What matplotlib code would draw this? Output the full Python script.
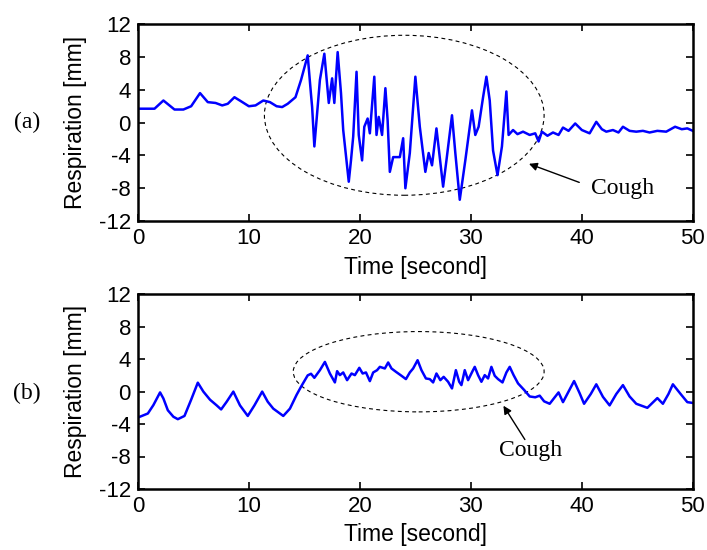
import numpy as np
import matplotlib.pyplot as plt
from matplotlib.patches import Ellipse

plt.rcParams['axes.unicode_minus'] = False

# (a) respiration with strong cough
t_a = [0, 1.5, 2.3, 3.3, 4.1, 4.8, 5.6, 6.3, 7.0, 7.6, 8.1, 8.7, 9.3, 10.0, 10.6,
       11.3, 11.9, 12.5, 13.0, 13.5, 14.2,
       14.7, 15.3, 15.6, 15.7, 15.9, 16.4, 16.8, 17.2, 17.5, 17.7, 18.0, 18.3, 18.5,
       19.0, 19.2, 19.4, 19.7, 19.9, 20.2, 20.4, 20.7, 20.9, 21.3, 21.5, 21.7, 22.0,
       22.3, 22.5, 22.7, 23.0, 23.6, 23.9, 24.1, 24.5, 25.0, 25.4, 25.9, 26.2, 26.5,
       26.9, 27.5, 27.8, 28.3, 28.6, 29.0, 29.5, 30.1, 30.4, 30.7, 31.1, 31.4, 31.7,
       32.0, 32.4, 32.8, 33.2, 33.4, 33.8, 34.2, 34.7, 35.3, 35.8, 36.1, 36.4, 36.9,
       37.4, 37.9, 38.3, 38.8, 39.4, 40.0, 40.7, 41.3, 41.8, 42.2, 42.8, 43.3, 43.7,
       44.3, 44.9, 45.5, 46.1, 46.8, 47.6, 48.0, 48.4, 49.0, 49.5, 50.0]
v_a = [1.7, 1.7, 2.7, 1.6, 1.6, 2.0, 3.6, 2.5, 2.4, 2.1, 2.3, 3.1, 2.6, 2.0, 2.1,
       2.7, 2.5, 2.0, 1.9, 2.3, 3.1,
       5.2, 8.2, 3.4, 1.9, -2.9, 5.2, 8.4, 2.4, 5.4, 2.4, 8.6, 3.6, -0.9,
       -7.2, -4.6, -1.7, 6.2, -1.5, -4.6, -0.5, 0.5, -1.3, 5.6, -1.5, 0.7, -1.5,
       4.2, 0.3, -6.0, -4.2, -4.2, -1.9, -8.0, -3.7, 5.6, -0.5, -6.0, -3.7, -5.2,
       -0.7, -7.8, -4.6, 0.9, -3.7, -9.4, -4.6, 1.5, -1.5, -0.5, 3.1, 5.6, 2.7,
       -3.4, -6.4, -2.9, 3.8, -1.5, -0.9, -1.4, -1.1, -1.5, -1.3, -2.3, -1.1, -1.6,
       -1.2, -1.5, -0.6, -1.0, -0.1, -0.9, -1.3, 0.1, -0.8, -1.1, -0.9, -1.2, -0.5,
       -1.0, -1.1, -1.0, -1.2, -1.0, -1.1, -0.8, -0.5, -0.8, -0.7, -1.0]

# (b) respiration with weak cough
t_b = [0, 0.9, 1.4, 2.0, 2.3, 2.7, 3.2, 3.6, 4.2, 4.8, 5.4, 5.9, 6.5, 7.1, 7.5,
       8.0, 8.6, 9.2, 9.9, 10.5, 11.2, 11.7, 12.2, 13.1, 13.7, 14.3,
       14.7, 15.3, 15.6, 15.9, 16.4, 16.85, 17.3, 17.75, 17.95, 18.2, 18.5, 18.85,
       19.25, 19.55, 19.95, 20.25, 20.55, 20.9, 21.2, 21.55, 21.8, 22.25, 22.55,
       22.85, 23.25, 23.75, 24.15, 24.5, 24.8, 25.2, 25.55, 25.95, 26.3, 26.6, 26.9,
       27.25, 27.55, 27.95, 28.3, 28.65, 28.95, 29.15, 29.45, 29.75, 30.15, 30.35,
       30.65, 30.95, 31.25, 31.55, 31.85, 32.15, 32.45, 32.85, 33.2, 33.5, 33.85,
       34.25, 34.8, 35.3, 35.8, 36.2, 36.6, 37.1, 37.9, 38.3, 38.8, 39.3, 39.8, 40.2,
       40.8, 41.3, 41.9, 42.5, 43.1, 43.7, 44.3, 44.9, 45.9, 46.8, 47.3, 47.8, 48.2,
       48.9, 49.5, 50.0]
v_b = [-3.2, -2.7, -1.66, -0.1, -0.85, -2.3, -3.1, -3.4, -3.0, -1.0, 1.1, 0.0, -1.0, -1.7, -2.2,
       -1.25, 0.0, -1.7, -3.0, -1.7, 0.0, -1.25, -2.1, -3.0, -2.1, -0.4,
       0.6, 2.0, 2.2, 1.7, 2.64, 3.66, 2.23, 1.13, 2.52, 2.03, 2.36, 1.41,
       2.23, 2.03, 2.93, 2.23, 2.36, 1.29, 2.36, 2.64, 3.05, 2.85, 3.59,
       2.85, 2.44, 1.95, 1.54, 2.36, 2.85, 3.87, 2.64, 1.62, 1.54, 1.13, 2.23,
       1.41, 1.82, 1.21, 0.39, 2.64, 1.21, 0.80, 2.64, 1.41, 2.52, 3.05,
       2.03, 1.21, 2.03, 1.62, 3.05, 1.95, 1.54, 1.13, 2.36, 3.05, 2.03,
       1.01, 0.2, -0.6, -0.7, -0.5, -1.2, -1.5, -0.1, -1.3, 0.0, 1.3, -0.2, -1.5,
       -0.3, 0.9, -0.65, -1.7, -0.3, 0.8, -0.6, -1.5, -2.0, -0.8, -1.5, -0.3, 0.9,
       -0.3, -1.3, -1.4]

x_ticks = [0, 10, 20, 30, 40, 50]
y_ticks = [-12, -8, -4, 0, 4, 8, 12]

sans = ['Liberation Sans', 'Arial', 'DejaVu Sans']
serif = ['Liberation Serif', 'Times New Roman', 'DejaVu Serif']

fig = plt.figure(figsize=(7.07, 5.5), dpi=100)
ax_a = fig.add_axes([0.195, 0.598, 0.785, 0.358])
ax_b = fig.add_axes([0.195, 0.111, 0.785, 0.354])

panels = [
    (ax_a, t_a, v_a, (24.0, 0.9, 25.2, 19.5), (35.0, -4.9), (40.0, -7.4), (43.7, -8.0), '(a)', 0.778),
    (ax_b, t_b, v_b, (25.3, 2.45, 22.6, 9.9), (32.8, -1.45), (35.0, -6.2), (35.4, -7.3), '(b)', 0.285),
]

for ax, t, v, ell, head, tail, txt, tag, tag_y in panels:
    ax.plot(t, v, color='#0000ff', lw=1.8)
    ax.set_xlim(0, 50)
    ax.set_ylim(-12, 12)
    ax.set_xticks(x_ticks)
    ax.set_yticks(y_ticks)
    ax.tick_params(direction='in', top=True, right=True, length=5, width=1.2,
                   labelsize=16, pad=5)
    for lab in ax.get_xticklabels() + ax.get_yticklabels():
        lab.set_family(sans)
    for s in ax.spines.values():
        s.set_linewidth(1.8)
    ax.set_xlabel('Time [second]', fontsize=16.5, family=sans)
    ax.set_ylabel('Respiration [mm]', fontsize=16.5, family=sans)
    ax.xaxis.set_label_coords(0.5, -0.175)
    ax.yaxis.set_label_coords(-0.092, 0.5)

    e = Ellipse((ell[0], ell[1]), ell[2], ell[3], fill=False, ec='black',
                lw=0.8, ls=(0, (3.5, 3)))
    ax.add_patch(e)
    ax.annotate('', xy=head, xytext=tail,
                arrowprops=dict(arrowstyle='-|>', color='black', lw=1.0,
                                mutation_scale=12))
    ax.text(txt[0], txt[1], 'Cough', fontsize=17, family=serif, ha='center', va='center')
    fig.text(0.038, tag_y, tag, fontsize=17, family=serif, ha='center', va='center')

fig.savefig('out.png', dpi=100)
